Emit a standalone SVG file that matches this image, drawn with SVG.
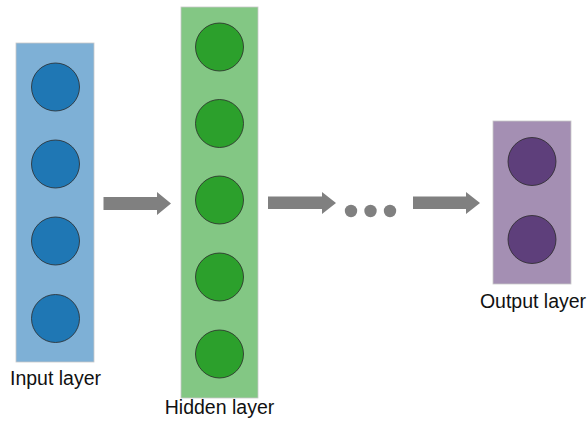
<svg xmlns="http://www.w3.org/2000/svg" width="587" height="426" viewBox="0 0 587 426">
<style>
.layer{stroke:#c8c8c8;stroke-width:0.8}
.node{stroke:#2a2a2a;stroke-width:0.8}
.in .layer{fill:#7eb0d6}
.in .node{fill:#1f77b4}
.hid .layer{fill:#83c784}
.hid .node{fill:#2ca02c}
.out .layer{fill:#a48fb3}
.out .node{fill:#5e3f7b}
.lbl{font-family:"Liberation Sans",Arial,sans-serif;font-size:19.5px;fill:#111;text-anchor:middle}
.arr{fill:#808080}
</style>
<rect width="587" height="426" fill="#fff"/>
<g id="input-layer" class="in">
<rect class="layer" x="16" y="43" width="78" height="319"/>
<circle class="node" cx="55.5" cy="87" r="24"/>
<circle class="node" cx="55.5" cy="164" r="24"/>
<circle class="node" cx="55.5" cy="241" r="24"/>
<circle class="node" cx="55.5" cy="318.5" r="24"/>
<text class="lbl" x="55.5" y="385">Input layer</text>
</g>
<g id="hidden-layer" class="hid">
<rect class="layer" x="181" y="7" width="77" height="391"/>
<circle class="node" cx="219.5" cy="47" r="24"/>
<circle class="node" cx="219.5" cy="123.5" r="24"/>
<circle class="node" cx="219.5" cy="200" r="24"/>
<circle class="node" cx="219.5" cy="277" r="24"/>
<circle class="node" cx="219.5" cy="354" r="24"/>
<text class="lbl" x="219.5" y="414">Hidden layer</text>
</g>
<g id="ellipsis">
<circle class="arr" cx="351" cy="211" r="6.2"/>
<circle class="arr" cx="370.5" cy="211" r="6.2"/>
<circle class="arr" cx="390" cy="211" r="6.2"/>
</g>
<g id="output-layer" class="out">
<rect class="layer" x="493" y="121" width="78" height="163"/>
<circle class="node" cx="532" cy="161.5" r="24"/>
<circle class="node" cx="532" cy="239.5" r="24"/>
<text class="lbl" x="533" y="308">Output layer</text>
</g>
<g id="connectors" class="arr">
<polygon points="103.5,197 157,197 157,192 171,203.5 157,215 157,210 103.5,210"/>
<polygon points="268,196.5 322,196.5 322,192 336,203 322,214 322,209 268,209"/>
<polygon points="413,196.5 466,196.5 466,192 480,203 466,214 466,209 413,209"/>
</g>
</svg>
